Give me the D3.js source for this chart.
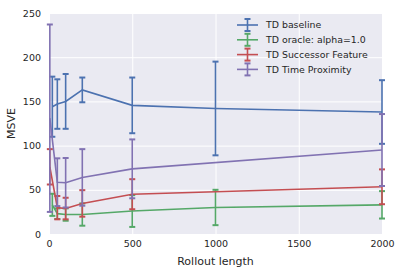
<!DOCTYPE html>
<html>
  <head>
    <meta charset="utf-8">
    <script src="https://cdn.jsdelivr.net/npm/d3@7/dist/d3.min.js"></script>
    <style>
      body { margin: 0; background: #fff; }
      text { font-family: "DejaVu Sans", sans-serif; fill: #262626; }
    </style>
  </head>
  <body>
    <script>
// data
const seriesNames = ["TD baseline", "TD oracle: alpha=1.0", "TD Successor Feature", "TD Time Proximity"];
const colors = ["#4C72B0", "#55A868", "#C44E52", "#8172B2"];

const baselineX = [20, 50, 100, 200, 500, 1000, 2000];
const baselineY = [144, 147, 150, 163, 145.5, 142, 138];
const baselineErr = [34, 28, 31, 14, 31.5, 53, 36];

const oracleX = [20, 50, 100, 200, 500, 1000, 2000];
const oracleY = [33, 23, 22, 22, 26, 30, 33];
const oracleErr = [12.5, 6, 7, 12.6, 18, 20, 15.5];

const successorX = [5, 50, 100, 200, 500, 2000];
const successorY = [76, 29.8, 28.8, 34.6, 45, 53.4];
const successorErr = [20, 13.2, 12.2, 15, 17, 19.7];

const proximityX = [5, 50, 100, 200, 500, 2000];
const proximityY = [131, 58.6, 58, 64, 73.7, 95];
const proximityErr = [106, 27, 28, 32, 33.3, 40.7];

const xTicks = [0, 500, 1000, 1500, 2000];
const yTicks = [0, 50, 100, 150, 200, 250];

const allSeries = [
  [baselineX, baselineY, baselineErr],
  [oracleX, oracleY, oracleErr],
  [successorX, successorY, successorErr],
  [proximityX, proximityY, proximityErr]
];

const w = 402, h = 274;
const pLeft = 49, pRight = 382, pTop = 13, pBottom = 234;

const svg = d3.select("body").append("svg")
  .attr("width", w)
  .attr("height", h);

const x = d3.scaleLinear().domain([0, 2000]).range([pLeft, pRight]);
const y = d3.scaleLinear().domain([0, 250]).range([pBottom, pTop]);

// background
svg.append("rect")
  .attr("x", pLeft).attr("y", pTop)
  .attr("width", pRight - pLeft).attr("height", pBottom - pTop)
  .attr("fill", "#EAEAF2");

// grid + tick labels
const yAxis = svg.append("g")
  .attr("transform", "translate(" + pLeft + ",0)")
  .call(d3.axisLeft(y).tickValues(yTicks).tickFormat(d3.format("d"))
    .tickSize(-(pRight - pLeft)).tickPadding(8));
const xAxis = svg.append("g")
  .attr("transform", "translate(0," + pBottom + ")")
  .call(d3.axisBottom(x).tickValues(xTicks).tickFormat(d3.format("d"))
    .tickSize(-(pBottom - pTop)).tickPadding(6));

for (let g of [xAxis, yAxis]) {
  g.select(".domain").remove();
  g.selectAll("line").attr("stroke", "#fff").attr("stroke-width", 1);
  g.selectAll("text")
    .attr("font-size", "9.5px")
    .attr("font-family", "DejaVu Sans, sans-serif")
    .attr("fill", "#262626");
}

// lines with error bars
const line = d3.line().x(d => x(d[0])).y(d => y(d[1]));
const capW = 3;

allSeries.forEach(function(s, k) {
  const pts = s[0].map((v, i) => [v, s[1][i], s[2][i]]);
  const g = svg.append("g");
  g.append("path")
    .attr("d", line(pts))
    .attr("fill", "none")
    .attr("stroke", colors[k])
    .attr("stroke-width", 1.6);
  g.selectAll(".bar").data(pts).enter().append("line")
    .attr("x1", d => x(d[0])).attr("x2", d => x(d[0]))
    .attr("y1", d => y(d[1] - d[2])).attr("y2", d => y(d[1] + d[2]))
    .attr("stroke", colors[k])
    .attr("stroke-width", 1.6);
  for (let sign of [-1, 1]) {
    g.selectAll(".cap" + sign).data(pts).enter().append("line")
      .attr("x1", d => x(d[0]) - capW).attr("x2", d => x(d[0]) + capW)
      .attr("y1", d => y(d[1] + sign * d[2])).attr("y2", d => y(d[1] + sign * d[2]))
      .attr("stroke", colors[k])
      .attr("stroke-width", 2);
  }
});

// legend
const legend = svg.append("g");
seriesNames.forEach(function(name, i) {
  const cy = 25 + i * 14.8;
  legend.append("line")
    .attr("x1", 237).attr("x2", 258).attr("y1", cy).attr("y2", cy)
    .attr("stroke", colors[i]).attr("stroke-width", 1.6);
  legend.append("line")
    .attr("x1", 247.5).attr("x2", 247.5).attr("y1", cy - 6).attr("y2", cy + 6)
    .attr("stroke", colors[i]).attr("stroke-width", 1.6);
  for (let dy of [-6, 6]) {
    legend.append("line")
      .attr("x1", 244.5).attr("x2", 250.5).attr("y1", cy + dy).attr("y2", cy + dy)
      .attr("stroke", colors[i]).attr("stroke-width", 2);
  }
  legend.append("text")
    .attr("x", 266).attr("y", cy)
    .attr("dy", "0.35em")
    .attr("font-size", "9.4px")
    .text(name);
});

// axis titles
svg.append("text")
  .attr("x", (pLeft + pRight) / 2).attr("y", 265)
  .attr("text-anchor", "middle")
  .attr("font-size", "11px")
  .text("Rollout length");

svg.append("text")
  .attr("transform", "translate(15," + ((pTop + pBottom) / 2) + ") rotate(-90)")
  .attr("text-anchor", "middle")
  .attr("font-size", "11px")
  .text("MSVE");
    </script>
  </body>
</html>
